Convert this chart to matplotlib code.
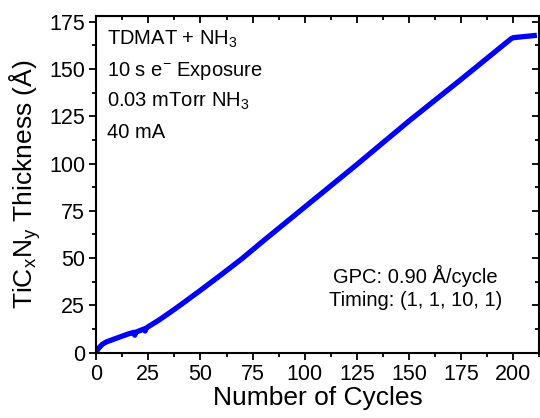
import matplotlib

matplotlib.use("Agg")

import matplotlib.pyplot as plt

plt.rcParams["font.family"] = ["Liberation Sans", "DejaVu Sans"]
plt.rcParams["mathtext.fontset"] = "custom"
plt.rcParams["mathtext.rm"] = "Liberation Sans"
plt.rcParams["mathtext.it"] = "Liberation Sans"
plt.rcParams["mathtext.default"] = "rm"

# Thickness (cycles, Angstrom)
cycles = [0, 1, 3, 5, 10, 15, 18, 18.5, 19, 20, 23, 23.5, 24, 25, 30, 35, 40,
          50, 60, 70, 80, 90, 100, 125, 150, 175, 199, 200, 210]
thickness = [0, 2.2, 4.5, 5.8, 7.8, 9.8, 10.8, 9.3, 10.9, 11.3, 12.6, 11.5,
             13.0, 13.8, 17.2, 21.0, 24.9, 33.0, 41.3, 49.8, 59.0, 68.0, 77.0,
             99.5, 122.5, 144.5, 166.0, 166.5, 167.6]

x_ticks = [0, 25, 50, 75, 100, 125, 150, 175, 200]
y_ticks = [0, 25, 50, 75, 100, 125, 150, 175]

info_lines = ["TDMAT + NH$_3$", "10 s e$^{-}$ Exposure", "0.03 mTorr NH$_3$", "40 mA"]
gpc_text = "GPC: 0.90 Å/cycle\nTiming: (1, 1, 10, 1)"

fig = plt.figure(figsize=(5.4, 4.18), dpi=100)
ax = fig.add_axes([0.178, 0.156, 0.821, 0.806])

ax.plot(cycles, thickness, color="#0000ff", lw=3.8, solid_joinstyle="round")

ax.set_xlim(0, 210)
ax.set_ylim(0, 178)
ax.set_xticks(x_ticks)
ax.set_yticks(y_ticks)
ax.set_xticks([t + 12.5 for t in x_ticks], minor=True)
ax.set_yticks([t + 12.5 for t in y_ticks[:-1]], minor=True)
ax.tick_params(which="major", direction="out", length=5, width=1.3, labelsize=15.5, pad=3)
ax.tick_params(which="minor", direction="out", length=3, width=1.3)
for sp in ax.spines.values():
    sp.set_linewidth(1.5)

# inward ticks on top and right, no labels
top = ax.secondary_xaxis("top")
top.set_xticks(x_ticks)
top.set_xticks([t + 12.5 for t in x_ticks], minor=True)
top.tick_params(which="major", direction="in", length=5, width=1.3, labeltop=False)
top.tick_params(which="minor", direction="in", length=3, width=1.3)
right = ax.secondary_yaxis("right")
right.set_yticks(y_ticks)
right.set_yticks([t + 12.5 for t in y_ticks[:-1]], minor=True)
right.tick_params(which="major", direction="in", length=5, width=1.3, labelright=False)
right.tick_params(which="minor", direction="in", length=3, width=1.3)

ax.set_xlabel("Number of Cycles", fontsize=19, labelpad=1)
ax.set_ylabel("TiC$_x$N$_y$ Thickness (Å)", fontsize=19, labelpad=4)

for i, line in enumerate(info_lines):
    ax.text(0.025, 0.929 - i * 0.092, line, transform=ax.transAxes,
            fontsize=14.5, ha="left", va="center")

ax.text(0.72, 0.194, gpc_text, transform=ax.transAxes, fontsize=14.5,
        ha="center", va="center", linespacing=1.25)

fig.savefig("out.png", dpi=100)
